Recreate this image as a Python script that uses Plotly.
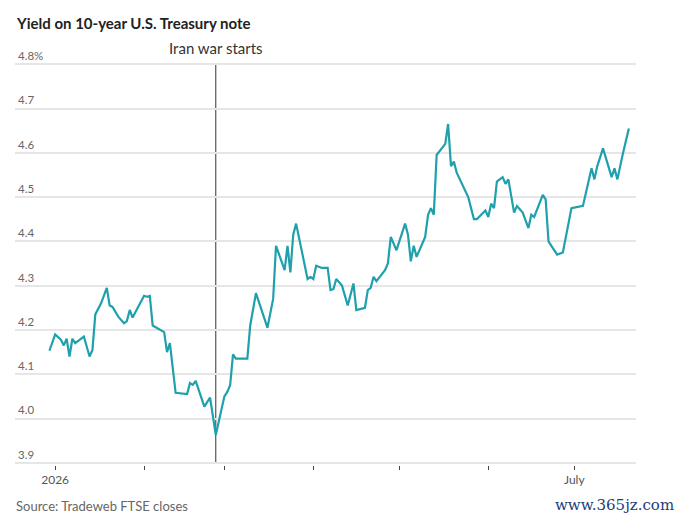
import plotly.graph_objects as go

# Daily closes, yield in %
dates = [
    "2025-12-30", "2026-01-01", "2026-01-03", "2026-01-04", "2026-01-05", "2026-01-06",
    "2026-01-07", "2026-01-08", "2026-01-11", "2026-01-13", "2026-01-14", "2026-01-15",
    "2026-01-17", "2026-01-19", "2026-01-20", "2026-01-21", "2026-01-23", "2026-01-25",
    "2026-01-26", "2026-01-27", "2026-01-28", "2026-02-01", "2026-02-02", "2026-02-03",
    "2026-02-04", "2026-02-08", "2026-02-09", "2026-02-10", "2026-02-12", "2026-02-16",
    "2026-02-17", "2026-02-18", "2026-02-19", "2026-02-22", "2026-02-24", "2026-02-26",
    "2026-03-01", "2026-03-02", "2026-03-03", "2026-03-04", "2026-03-05", "2026-03-09",
    "2026-03-10", "2026-03-12", "2026-03-16", "2026-03-18", "2026-03-19", "2026-03-22",
    "2026-03-23", "2026-03-24", "2026-03-25", "2026-03-26", "2026-03-30", "2026-03-31",
    "2026-04-01", "2026-04-02", "2026-04-04", "2026-04-06", "2026-04-07", "2026-04-08",
    "2026-04-09", "2026-04-11", "2026-04-13", "2026-04-15", "2026-04-16", "2026-04-19",
    "2026-04-20", "2026-04-21", "2026-04-22", "2026-04-23", "2026-04-26", "2026-04-27",
    "2026-04-28", "2026-04-30", "2026-05-03", "2026-05-04", "2026-05-05", "2026-05-06",
    "2026-05-07", "2026-05-10", "2026-05-11", "2026-05-12", "2026-05-13", "2026-05-14",
    "2026-05-17", "2026-05-18", "2026-05-19", "2026-05-20", "2026-05-21", "2026-05-25",
    "2026-05-26", "2026-05-27", "2026-05-28", "2026-05-31", "2026-06-01", "2026-06-02",
    "2026-06-03", "2026-06-04", "2026-06-06", "2026-06-07", "2026-06-08", "2026-06-10",
    "2026-06-11", "2026-06-13", "2026-06-15", "2026-06-16", "2026-06-17", "2026-06-20",
    "2026-06-21", "2026-06-22", "2026-06-23", "2026-06-25", "2026-06-27", "2026-06-30",
    "2026-07-04", "2026-07-07", "2026-07-08", "2026-07-09", "2026-07-11", "2026-07-14",
    "2026-07-15", "2026-07-16", "2026-07-18", "2026-07-20",
]
yields = [
    4.153, 4.19, 4.178, 4.165, 4.18, 4.14,
    4.18, 4.17, 4.185, 4.14, 4.155, 4.235,
    4.26, 4.295, 4.255, 4.252, 4.23, 4.215,
    4.22, 4.245, 4.228, 4.277, 4.275, 4.277,
    4.21, 4.195, 4.15, 4.17, 4.058, 4.055,
    4.08, 4.076, 4.085, 4.027, 4.047, 3.963,
    4.05, 4.06, 4.075, 4.145, 4.135, 4.135,
    4.21, 4.283, 4.205, 4.27, 4.39, 4.335,
    4.39, 4.33, 4.415, 4.44, 4.315, 4.32,
    4.315, 4.345, 4.34, 4.34, 4.29, 4.292,
    4.315, 4.3, 4.255, 4.305, 4.245, 4.25,
    4.29, 4.295, 4.32, 4.31, 4.335, 4.35,
    4.41, 4.38, 4.44, 4.415, 4.355, 4.39,
    4.365, 4.41, 4.46, 4.475, 4.46, 4.595,
    4.62, 4.665, 4.57, 4.58, 4.555, 4.5,
    4.475, 4.45, 4.45, 4.47, 4.455, 4.485,
    4.475, 4.535, 4.545, 4.53, 4.54, 4.465,
    4.48, 4.465, 4.43, 4.46, 4.455, 4.505,
    4.495, 4.4, 4.39, 4.37, 4.375, 4.475,
    4.48, 4.565, 4.54, 4.57, 4.61, 4.545,
    4.565, 4.54, 4.6, 4.655,
]

war_date = "2026-02-26"

month_ticks = ["2026-01-01", "2026-02-01", "2026-03-01", "2026-04-01",
               "2026-05-01", "2026-06-01", "2026-07-01"]
month_labels = ["2026", "", "", "", "", "", "July"]
y_ticks = [3.9, 4.0, 4.1, 4.2, 4.3, 4.4, 4.5, 4.6, 4.7, 4.8]
y_labels = ["3.9", "4.0", "4.1", "4.2", "4.3", "4.4", "4.5", "4.6", "4.7", "4.8%"]

fig = go.Figure()
fig.add_trace(go.Scatter(x=dates, y=yields, mode="lines",
                         line=dict(color="#1fa0ac", width=2.2),
                         hoverinfo="x+y", cliponaxis=False))

# event marker, from the 4.8 grid line down to the 3.9 one
fig.add_shape(type="line", x0=war_date, x1=war_date, y0=3.9, y1=4.8,
              line=dict(color="#333333", width=1), layer="below")
fig.add_annotation(x=war_date, y=4.8, yanchor="middle", yshift=16,
                   text="Iran war starts", showarrow=False,
                   font=dict(size=15, color="#333333"))

# title
fig.add_annotation(x=0, xref="paper", xanchor="left", xshift=-1, y=4.8,
                   yanchor="middle", yshift=41,
                   text="<b>Yield on 10-year U.S. Treasury note</b>", showarrow=False,
                   font=dict(size=15, color="#222222"))

# page body adds an 8px offset, so the figure is 8px smaller than the window
fig.update_layout(
    width=674, height=511,
    margin=dict(l=7, r=46, t=54, b=54, autoexpand=False),
    paper_bgcolor="white", plot_bgcolor="white",
    font=dict(family="Lato, Roboto, sans-serif", color="#555555"),
    showlegend=False,
)
fig.update_xaxes(
    range=["2025-12-18", "2026-07-22 12:00"],
    tickvals=month_ticks, ticktext=month_labels,
    ticks="outside", ticklen=4, tickcolor="#444444", tickwidth=1,
    showgrid=False, zeroline=False, showline=False, automargin=False,
    tickfont=dict(size=12, color="#555555"),
)
fig.update_yaxes(
    range=[3.895, 4.805],
    tickvals=y_ticks, ticktext=y_labels,
    ticklabelposition="inside top", ticklabeloverflow="allow",
    showgrid=True, gridcolor="#e6e6e6", gridwidth=1.5,
    zeroline=False, showline=False, automargin=False,
    tickfont=dict(size=11.5, color="#666666"),
)

fig.add_annotation(x=0, xref="paper", xanchor="left", xshift=-1, y=3.9,
                   yanchor="middle", yshift=-43,
                   text="Source: Tradeweb FTSE closes", showarrow=False,
                   font=dict(size=13, color="#666666"))
fig.add_annotation(x=1, xref="paper", xanchor="right", xshift=40, y=3.9,
                   yanchor="middle", yshift=-42, text="www.365jz.com",
                   showarrow=False,
                   font=dict(family="DejaVu Serif, serif", size=15, color="#1c3c7c"))

fig.write_html("out.html")
